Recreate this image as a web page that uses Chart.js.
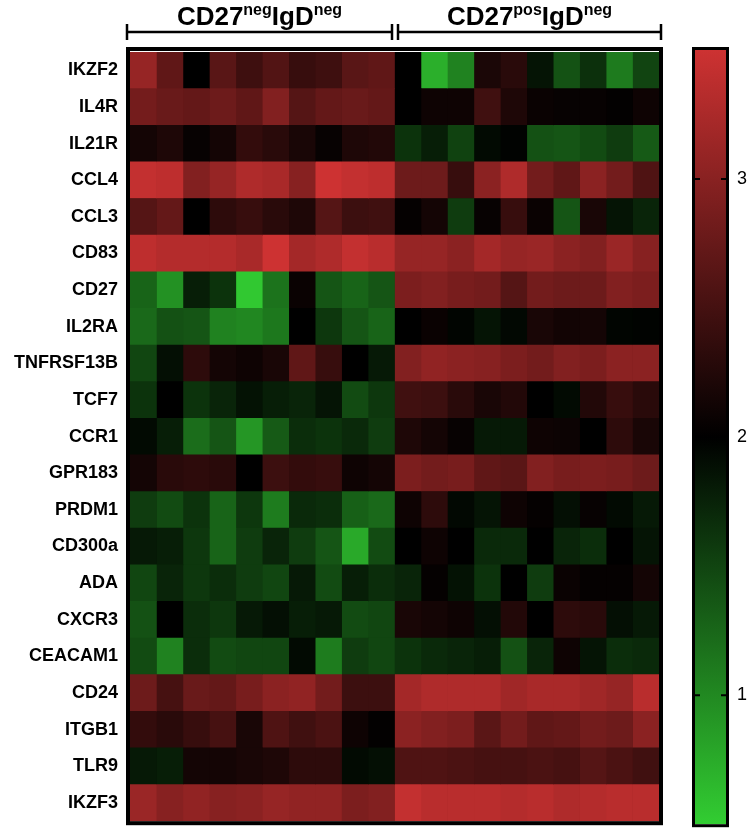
<!DOCTYPE html>
<html>
<head>
<meta charset="utf-8">
<script src="https://cdn.jsdelivr.net/npm/chart.js@4.4.1/dist/chart.umd.min.js"></script>
<style>
  html, body { margin: 0; padding: 0; background: #fff; overflow: hidden; }
  #wrap { position: relative; width: 751px; height: 831px; overflow: hidden; }
  #heat { position: absolute; left: 0; top: 0; }
  #bar { position: absolute; left: 680px; top: 0; }
</style>
</head>
<body>
<div id="wrap">
  <canvas id="heat" width="680" height="844"></canvas>
  <canvas id="bar" width="71" height="846"></canvas>
</div>
<script>
const genes = ['IKZF2', 'IL4R', 'IL21R', 'CCL4', 'CCL3', 'CD83', 'CD27', 'IL2RA', 'TNFRSF13B', 'TCF7',
  'CCR1', 'GPR183', 'PRDM1', 'CD300a', 'ADA', 'CXCR3', 'CEACAM1', 'CD24', 'ITGB1', 'TLR9', 'IKZF3'];

// one row per gene, 10 samples per group
const negValues = [
  [3.1, 2.7, 2.0, 2.65, 2.45, 2.6, 2.4, 2.45, 2.65, 2.7],
  [2.85, 2.77, 2.73, 2.8, 2.7, 2.95, 2.62, 2.73, 2.77, 2.73],
  [2.15, 2.22, 2.05, 2.15, 2.37, 2.3, 2.18, 2.05, 2.22, 2.25],
  [3.43, 3.39, 2.95, 3.1, 3.28, 3.24, 2.99, 3.5, 3.43, 3.39],
  [2.62, 2.73, 2.0, 2.33, 2.4, 2.3, 2.22, 2.62, 2.44, 2.47],
  [3.39, 3.32, 3.32, 3.32, 3.24, 3.5, 3.2, 3.28, 3.43, 3.35],
  [1.27, 0.94, 1.78, 1.63, 0.54, 1.16, 2.07, 1.38, 1.27, 1.38],
  [1.23, 1.41, 1.38, 1.05, 1.01, 1.12, 2.0, 1.6, 1.38, 1.27],
  [1.49, 1.89, 2.33, 2.15, 2.1, 2.18, 2.7, 2.4, 2.0, 1.82],
  [1.63, 2.0, 1.63, 1.74, 1.87, 1.78, 1.74, 1.85, 1.45, 1.6],
  [1.93, 1.78, 1.2, 1.38, 0.9, 1.34, 1.67, 1.63, 1.7, 1.56],
  [2.15, 2.3, 2.33, 2.3, 2.0, 2.44, 2.37, 2.4, 2.1, 2.15],
  [1.56, 1.45, 1.63, 1.27, 1.6, 1.09, 1.7, 1.67, 1.3, 1.23],
  [1.82, 1.78, 1.6, 1.27, 1.56, 1.74, 1.56, 1.38, 0.76, 1.45],
  [1.49, 1.74, 1.6, 1.67, 1.56, 1.49, 1.82, 1.45, 1.78, 1.67],
  [1.41, 2.0, 1.67, 1.6, 1.82, 1.89, 1.78, 1.82, 1.45, 1.49],
  [1.45, 1.05, 1.67, 1.45, 1.49, 1.49, 1.93, 1.09, 1.56, 1.49],
  [2.8, 2.51, 2.77, 2.73, 2.88, 3.02, 3.06, 2.84, 2.44, 2.44],
  [2.37, 2.3, 2.4, 2.51, 2.18, 2.58, 2.47, 2.55, 2.1, 2.02],
  [1.82, 1.78, 2.15, 2.15, 2.18, 2.22, 2.33, 2.33, 1.93, 1.89],
  [3.13, 2.99, 3.06, 2.99, 3.02, 3.1, 3.06, 3.06, 2.91, 2.95]
];

const posValues = [
  [2.0, 0.72, 1.05, 2.2, 2.3, 1.85, 1.4, 1.65, 1.1, 1.5],
  [2.0, 2.1, 2.1, 2.47, 2.22, 2.07, 2.05, 2.05, 2.02, 2.1],
  [1.63, 1.78, 1.52, 1.93, 1.98, 1.41, 1.38, 1.45, 1.56, 1.34],
  [2.8, 2.8, 2.4, 3.02, 3.28, 2.84, 2.7, 3.02, 2.84, 2.58],
  [2.04, 2.15, 1.56, 2.05, 2.4, 2.07, 1.38, 2.18, 1.85, 1.74],
  [3.1, 3.1, 3.02, 3.2, 3.1, 3.13, 3.02, 2.95, 3.13, 2.99],
  [2.91, 2.95, 2.88, 2.84, 2.62, 2.84, 2.8, 2.8, 2.95, 2.91],
  [2.0, 2.07, 1.96, 1.85, 1.94, 2.18, 2.13, 2.15, 1.96, 1.98],
  [2.95, 3.06, 3.02, 2.99, 2.91, 2.84, 2.95, 2.91, 3.02, 3.02],
  [2.47, 2.44, 2.3, 2.18, 2.25, 2.0, 1.93, 2.25, 2.4, 2.3],
  [2.22, 2.15, 2.05, 1.82, 1.82, 2.1, 2.09, 2.0, 2.33, 2.18],
  [2.91, 2.84, 2.88, 2.7, 2.66, 2.95, 2.88, 2.91, 2.88, 2.8],
  [2.1, 2.33, 1.94, 1.85, 2.1, 2.04, 1.89, 2.05, 1.93, 1.82],
  [2.0, 2.1, 2.0, 1.7, 1.7, 2.0, 1.74, 1.67, 2.0, 1.85],
  [1.74, 2.04, 1.87, 1.63, 2.0, 1.56, 2.07, 2.04, 2.04, 2.15],
  [2.18, 2.15, 2.1, 1.89, 2.25, 2.0, 2.33, 2.3, 1.89, 1.82],
  [1.63, 1.7, 1.74, 1.78, 1.41, 1.74, 2.1, 1.85, 1.67, 1.7],
  [3.2, 3.28, 3.28, 3.28, 3.17, 3.24, 3.24, 3.17, 3.1, 3.35],
  [3.02, 2.95, 2.91, 2.66, 2.84, 2.7, 2.73, 2.84, 2.8, 3.02],
  [2.58, 2.58, 2.55, 2.51, 2.51, 2.55, 2.51, 2.62, 2.55, 2.47],
  [3.43, 3.35, 3.35, 3.35, 3.32, 3.35, 3.28, 3.32, 3.35, 3.35]
];

const groups = [
  { base: 'CD27', sup1: 'neg', mid: 'IgD', sup2: 'neg' },
  { base: 'CD27', sup1: 'pos', mid: 'IgD', sup2: 'neg' }
];
const colorMin = 0.5;
const colorMid = 2;
const colorMax = 3.5;
const colorTicks = [1, 2, 3];

const FONT = '"Liberation Sans", Arial, sans-serif';
const RED = [205, 50, 50];
const GREEN = [50, 205, 50];

function colorFor(v) {
  let t;
  let c;
  if (v >= colorMid) {
    t = Math.min(1, (v - colorMid) / (colorMax - colorMid));
    c = RED;
  } else {
    t = Math.min(1, (colorMid - v) / (colorMid - colorMin));
    c = GREEN;
  }
  return `rgb(${Math.round(c[0] * t)},${Math.round(c[1] * t)},${Math.round(c[2] * t)})`;
}

// all samples side by side: negative group then positive group
const rows = genes.map((g, i) => negValues[i].concat(posValues[i]));
const nCols = rows[0].length;

const datasets = [];
for (let c = 0; c < nCols; c++) {
  datasets.push({
    data: genes.map(() => 1),
    backgroundColor: rows.map(r => colorFor(r[c])),
    borderWidth: 0,
    barPercentage: 1,
    categoryPercentage: 1
  });
}

// frame, brackets and group titles
const heatDecor = {
  id: 'heatDecor',
  beforeDatasetsDraw(chart) {
    const { ctx, chartArea: a } = chart;
    ctx.save();
    ctx.fillStyle = '#000';
    ctx.fillRect(a.left, a.top, a.right - a.left, a.bottom - a.top);
    ctx.restore();
  },
  afterDraw(chart) {
    const { ctx, chartArea: a } = chart;
    const x = chart.scales.x;
    ctx.save();
    ctx.strokeStyle = '#000';
    ctx.lineWidth = 4;
    ctx.strokeRect(a.left - 2, a.top - 3, a.right - a.left + 4, a.bottom - a.top + 5);

    const split = x.getPixelForValue(negValues[0].length);
    const spans = [[a.left - 4, split - 1.5], [split + 2.5, a.right + 3]];
    ctx.lineWidth = 2.5;
    spans.forEach(([x0, x1], i) => {
      ctx.beginPath();
      ctx.moveTo(x0, 32); ctx.lineTo(x1, 32);
      ctx.moveTo(x0 + 1, 24); ctx.lineTo(x0 + 1, 40);
      ctx.moveTo(x1 - 1, 24); ctx.lineTo(x1 - 1, 40);
      ctx.stroke();

      const g = groups[i];
      const big = 'bold 26px ' + FONT;
      const small = 'bold 16px ' + FONT;
      ctx.font = big;
      const w1 = ctx.measureText(g.base).width;
      const w3 = ctx.measureText(g.mid).width;
      ctx.font = small;
      const w2 = ctx.measureText(g.sup1).width;
      const w4 = ctx.measureText(g.sup2).width;
      let tx = (x0 + x1) / 2 - (w1 + w2 + w3 + w4) / 2;
      ctx.fillStyle = '#000';
      ctx.textBaseline = 'alphabetic';
      ctx.textAlign = 'left';
      ctx.font = big; ctx.fillText(g.base, tx, 25); tx += w1;
      ctx.font = small; ctx.fillText(g.sup1, tx, 15); tx += w2;
      ctx.font = big; ctx.fillText(g.mid, tx, 25); tx += w3;
      ctx.font = small; ctx.fillText(g.sup2, tx, 15);
    });
    ctx.restore();
  }
};

new Chart(document.getElementById('heat'), {
  type: 'bar',
  data: { labels: genes, datasets },
  options: {
    indexAxis: 'y',
    responsive: false,
    animation: false,
    layout: { padding: { top: 52, bottom: 0, left: 0, right: 21 } },
    plugins: { legend: { display: false }, tooltip: { enabled: false } },
    scales: {
      x: { stacked: true, min: 0, max: nCols, display: false },
      y: {
        stacked: true,
        grid: { display: false, drawTicks: false },
        border: { display: false },
        ticks: { color: '#000', padding: 12, font: { family: FONT, size: 18, weight: 'bold' } },
        afterFit(scale) { scale.width = 130; }
      }
    }
  },
  plugins: [heatDecor]
});

// colour key
const barDecor = {
  id: 'barDecor',
  afterDraw(chart) {
    const { ctx, chartArea: a } = chart;
    const y = chart.scales.y;
    ctx.save();
    ctx.strokeStyle = '#000';
    ctx.lineWidth = 3;
    ctx.strokeRect(a.left - 1.5, a.top - 1.5, a.right - a.left + 3, a.bottom - a.top + 3);
    ctx.lineWidth = 2;
    colorTicks.forEach(v => {
      const py = y.getPixelForValue(v);
      ctx.beginPath();
      ctx.moveTo(a.left, py); ctx.lineTo(a.left + 5, py);
      ctx.moveTo(a.right - 5, py); ctx.lineTo(a.right, py);
      ctx.stroke();
    });
    ctx.restore();
  }
};

new Chart(document.getElementById('bar'), {
  type: 'bar',
  data: {
    labels: [''],
    datasets: [{
      data: [[colorMin, colorMax]],
      borderWidth: 0,
      barPercentage: 1,
      categoryPercentage: 1,
      backgroundColor(context) {
        const area = context.chart.chartArea;
        if (!area) return null;
        const grad = context.chart.ctx.createLinearGradient(0, area.bottom, 0, area.top);
        grad.addColorStop(0, `rgb(${GREEN.join(',')})`);
        grad.addColorStop(0.5, '#000');
        grad.addColorStop(1, `rgb(${RED.join(',')})`);
        return grad;
      }
    }]
  },
  options: {
    responsive: false,
    animation: false,
    layout: { padding: { top: 50, bottom: 0, left: 15, right: 0 } },
    plugins: { legend: { display: false }, tooltip: { enabled: false } },
    scales: {
      x: { display: false },
      y: {
        position: 'right',
        min: colorMin,
        max: colorMax,
        grid: { display: false, drawTicks: false },
        border: { display: false },
        ticks: { color: '#000', padding: 11, font: { family: FONT, size: 18 } },
        afterBuildTicks(scale) { scale.ticks = colorTicks.map(v => ({ value: v })); },
        afterFit(scale) { scale.width = 25; }
      }
    }
  },
  plugins: [barDecor]
});
</script>
</body>
</html>
